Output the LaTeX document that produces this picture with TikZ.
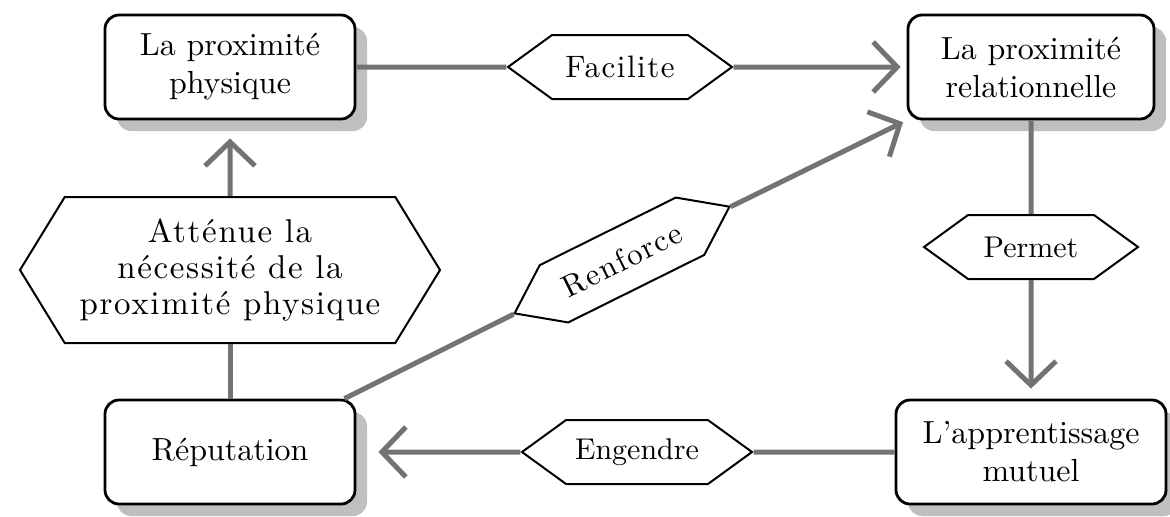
\documentclass[tikz,border=0pt]{standalone}
\usepackage{fontspec}
\setmainfont{lmroman10-regular.otf}
\usepackage{tikz}
\usetikzlibrary{shapes,arrows.meta,shadows}

\begin{document}
\begin{tikzpicture}[x=0.5pt,y=-0.5pt,
  box/.style={rectangle,rounded corners=7pt,draw,line width=1.4pt,fill=white,align=center,
    minimum width=125pt,minimum height=52pt,font=\fontsize{16}{19}\selectfont,
    drop shadow={shadow xshift=6pt,shadow yshift=-6pt,fill=black!25,opacity=1}},
  verb/.style={signal,signal to=east and west,signal pointer angle=72,draw,line width=1pt,
    fill=white,minimum height=32pt,align=center,font=\fontsize{15}{18}\selectfont},
  spaced/.style={font=\fontsize{#1}{18}\selectfont\addfontfeatures{LetterSpace=5}},
  link/.style={draw=black!55,line width=2.5pt},
  arr/.style={link,-{Straight Barb[length=12pt,width=25pt]}}]
\useasboundingbox (0,0) rectangle (1170,516);
% boxes
\node[box] (phys) at (230,67) {La proximité\\physique};
\node[box,minimum width=123pt] (rel) at (1031,67) {La proximité\\relationnelle};
\node[box] (rep) at (230,452) {Réputation};
\node[box,minimum width=135pt] (appr) at (1031,452) {L'apprentissage\\mutuel};
% verbs
\node[verb,spaced=15.5,minimum width=112pt] (fac) at (620,67) {Facilite};
\node[verb,minimum width=107pt] (perm) at (1031,247) {Permet};
\node[verb,minimum width=115pt] (eng) at (637,452) {Engendre};
\node[verb,spaced=16.5,minimum width=210pt,minimum height=73pt,signal pointer angle=117]
  (att) at (230,270) {Atténue la\\nécessité de la\\proximité physique};
\node[verb,spaced=15.5,minimum width=120pt,rotate=26.4] (renf) at (622,260) {Renforce};
% links
\draw[link] (phys) -- (fac);
\draw[arr,shorten >=3pt] (fac) -- (rel);
\draw[link] (rel) -- (perm);
\draw[arr,shorten >=5pt] (perm) -- (appr);
\draw[link] (appr) -- (eng);
\draw[arr,shorten >=11pt] (eng) -- (rep);
\draw[link] (rep) -- (att);
\draw[arr,shorten >=9pt] (att) -- (phys);
\draw[link] (rep.25) -- (renf);
\draw[arr,shorten >=2pt] (renf) -- (rel.south west);
\end{tikzpicture}
\end{document}
